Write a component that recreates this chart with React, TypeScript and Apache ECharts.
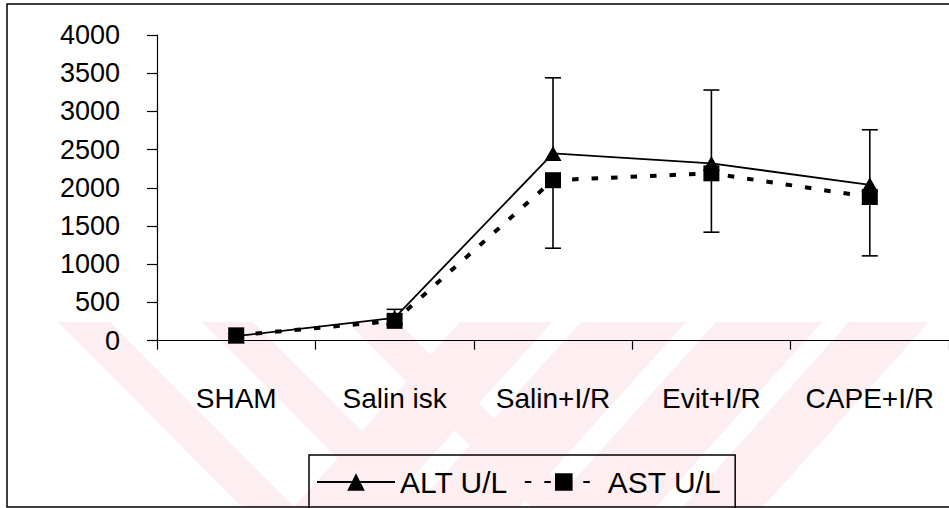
import React, { useEffect, useRef } from "react";
import * as echarts from "echarts";

const categories = ["SHAM", "Salin isk", "Salin+I/R", "Evit+I/R", "CAPE+I/R"];
const altValues = [60, 300, 2450, 2320, 2040];
const astValues = [70, 260, 2100, 2190, 1880];
const altErrPlus = [30, 110, 990, 960, 720];
const astErrMinus = [30, 40, 890, 770, 770];
const yTicks = { min: 0, max: 4000, interval: 500 };

const FONT = "'Liberation Sans', Arial, sans-serif";

export default function App() {
  const ref = useRef<HTMLDivElement>(null);
  useEffect(() => {
    if (!ref.current) return;
    const chart = echarts.init(ref.current, null, { renderer: "svg" });

    const altBars = categories.map((_, i) => [i, altValues[i], altValues[i] + altErrPlus[i]]);
    const astBars = categories.map((_, i) => [i, astValues[i], astValues[i] - astErrMinus[i]]);

    const renderErr = (params: any, api: any) => {
      const x = api.value(0);
      const p1 = api.coord([x, api.value(1)]);
      const p2 = api.coord([x, api.value(2)]);
      const hw = 8;
      const st = { stroke: "#000", lineWidth: 1.6 };
      return {
        type: "group",
        children: [
          { type: "line", shape: { x1: p1[0], y1: p1[1], x2: p2[0], y2: p2[1] }, style: st },
          { type: "line", shape: { x1: p2[0] - hw, y1: p2[1], x2: p2[0] + hw, y2: p2[1] }, style: st },
        ],
      };
    };

    const pink = "#fdeef1";
    const band = (x0: number, x1: number, dx: number) => ({
      type: "polygon",
      z: -5,
      silent: true,
      shape: {
        points: [
          [x0, 322],
          [x1, 322],
          [x1 + dx, 508],
          [x0 + dx, 508],
        ],
      },
      style: { fill: pink },
    });

    chart.setOption({
      animation: false,
      backgroundColor: "#fff",
      textStyle: { fontFamily: FONT },
      grid: { left: 157, top: 35, width: 797, height: 305.7, containLabel: false },
      xAxis: {
        type: "category",
        data: categories,
        boundaryGap: true,
        axisLine: { show: true, lineStyle: { color: "#000", width: 1.2 } },
        axisTick: { show: true, length: 9, alignWithLabel: false, lineStyle: { color: "#000", width: 1.2 } },
        axisLabel: { interval: 0, margin: 44, color: "#000", fontSize: 28, fontFamily: FONT },
        splitLine: { show: false },
      },
      yAxis: {
        type: "value",
        min: yTicks.min,
        max: yTicks.max,
        interval: yTicks.interval,
        axisLine: { show: true, lineStyle: { color: "#000", width: 1.2 } },
        axisTick: { show: true, length: 10, inside: false, lineStyle: { color: "#000", width: 1.2 } },
        axisLabel: {
          margin: 37,
          color: "#000",
          fontSize: 27,
          fontFamily: FONT,
          formatter: (v: number) => String(v),
        },
        splitLine: { show: false },
      },
      legend: {
        data: ["ALT U/L", "AST U/L"],
        left: 309,
        top: 455,
        orient: "horizontal",
        selectedMode: false,
        itemWidth: 78,
        itemHeight: 22,
        itemGap: 16,
        padding: [12, 14, 12, 7],
        borderColor: "#000",
        borderWidth: 1.5,
        textStyle: { color: "#000", fontSize: 30, fontFamily: FONT },
      },
      graphic: [
        band(58, 110, 185),
        band(202, 253, 185),
        band(347, 398, 185),
        band(460, 552, -167),
        band(581, 686, -167),
        band(716, 822, -167),
        band(849, 929, -167),
        {
          type: "rect",
          z: 10,
          silent: true,
          shape: { x: 7, y: 4, width: 980, height: 503 },
          style: { fill: "none", stroke: "#000", lineWidth: 1.5 },
        },
      ],
      series: [
        {
          name: "ALT U/L",
          type: "line",
          data: altValues,
          symbol: "triangle",
          symbolSize: [17, 15],
          lineStyle: { color: "#000", width: 1.8, type: "solid" },
          itemStyle: { color: "#000" },
          z: 3,
        },
        {
          name: "AST error",
          type: "custom",
          data: astBars,
          renderItem: renderErr,
          z: 2,
          silent: true,
        },
        {
          name: "ALT error",
          type: "custom",
          data: altBars,
          renderItem: renderErr,
          z: 2,
          silent: true,
        },
        {
          name: "AST U/L",
          type: "line",
          data: astValues,
          symbol: "rect",
          symbolSize: 16,
          lineStyle: { color: "#000", width: 4, type: [6.5, 13] },
          itemStyle: { color: "#000" },
          z: 4,
        },
      ],
    });
    return () => chart.dispose();
  }, []);
  return (
    <div
      ref={ref}
      style={{ position: "absolute", left: 0, top: 0, width: 949, height: 508 }}
    />
  );
}
